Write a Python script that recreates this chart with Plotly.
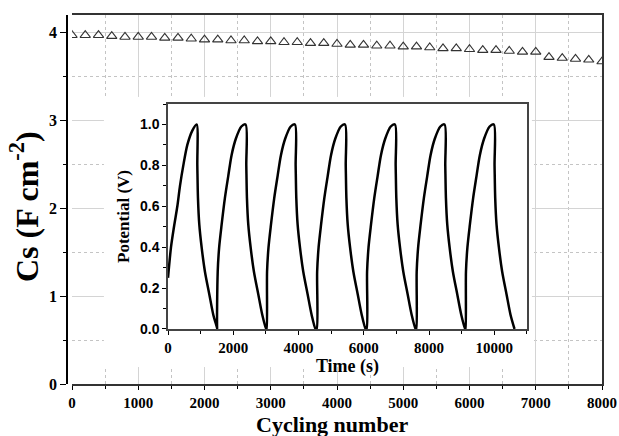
import plotly.graph_objects as go

# ---- main data: areal capacitance vs cycle number ----
cycles = [0, 200, 400, 600, 800, 1000, 1200, 1400, 1600, 1800,
          2000, 2200, 2400, 2600, 2800, 3000, 3200, 3400, 3600, 3800,
          4000, 4200, 4400, 4600, 4800, 5000, 5200, 5400, 5600, 5800,
          6000, 6200, 6400, 6600, 6800, 7000, 7200, 7400, 7600, 7800, 8000]
cs = [3.97, 3.97, 3.97, 3.96, 3.95, 3.95, 3.95, 3.94, 3.94, 3.93,
      3.92, 3.92, 3.91, 3.91, 3.90, 3.90, 3.89, 3.89, 3.88, 3.88,
      3.87, 3.86, 3.86, 3.85, 3.85, 3.84, 3.84, 3.83, 3.82, 3.82,
      3.81, 3.80, 3.80, 3.79, 3.78, 3.78, 3.72, 3.71, 3.70, 3.69, 3.67]

# ---- inset data: galvanostatic charge/discharge ----
first_charge_t = [0, 92, 184, 286, 367, 469, 592, 745, 877]
first_charge_v = [0.25, 0.40, 0.50, 0.60, 0.70, 0.80, 0.90, 0.97, 1.0]
cycle_start = [0, 1508, 3020, 4555, 6085, 7605, 9115]
charge_dt = [0, 15, 60, 135, 235, 340, 440, 570, 740, 870]
charge_v = [0.0, 0.28, 0.40, 0.51, 0.64, 0.75, 0.85, 0.93, 0.99, 1.0]
discharge_dt = [0, 21, 41, 82, 153, 255, 388, 510, 633]
discharge_v = [1.0, 0.80, 0.64, 0.51, 0.40, 0.28, 0.17, 0.07, 0.0]

t, v = [], []
for i, s in enumerate(cycle_start):
    if i == 0:
        ct, cv = first_charge_t, first_charge_v
    else:
        ct = [s + d for d in charge_dt]
        cv = charge_v
    t += ct
    v += cv
    peak = ct[-1]
    t += [peak + d for d in discharge_dt[1:]]
    v += discharge_v[1:]

SERIF = "Liberation Serif"
SANS = "Liberation Sans"
GRID = "#d4d4d4"
MINGRID = "#c4c4c4"

fig = go.Figure()
fig.add_trace(go.Scatter(
    x=cycles, y=cs, mode="markers", xaxis="x", yaxis="y", cliponaxis=True,
    marker=dict(symbol="triangle-up-open", size=9, color="#333333",
                line=dict(width=1.1, color="#333333")),
    showlegend=False, hoverinfo="skip"))
# helper traces so the frame axis and the white backing panel exist
fig.add_trace(go.Scatter(x=[0], y=[0], xaxis="x", yaxis="y4", mode="markers",
                         marker=dict(opacity=0), showlegend=False, hoverinfo="skip"))
fig.add_trace(go.Scatter(x=[0], y=[0], xaxis="x2", yaxis="y2", mode="markers",
                         marker=dict(opacity=0), showlegend=False, hoverinfo="skip"))
fig.add_trace(go.Scatter(
    x=t, y=v, mode="lines", xaxis="x3", yaxis="y3",
    line=dict(color="black", width=2.5, shape="spline", smoothing=0.8),
    showlegend=False, hoverinfo="skip"))

tickfont = dict(family=SERIF, size=16, color="black", weight="bold")

fig.update_layout(
    width=619, height=436,
    margin=dict(l=67, r=17, t=15, b=52, autoexpand=False),
    paper_bgcolor="white", plot_bgcolor="white",
    showlegend=False,
    xaxis=dict(
        domain=[0.00935, 1], range=[0, 8000], anchor="y", automargin=False,
        tick0=0, dtick=1000, ticks="outside", ticklen=4, tickwidth=1.3,
        tickcolor="black", tickfont=dict(family=SERIF, size=15, color="black", weight="bold"),
        showgrid=True, gridcolor=GRID, gridwidth=1,
        minor=dict(dtick=500, ticks="outside", ticklen=3, tickcolor="black",
                   showgrid=True, gridcolor=MINGRID, griddash="dot"),
        showline=True, linecolor="#333333", linewidth=1.5, mirror=True,
        zeroline=False,
    ),
    yaxis=dict(
        anchor="free", position=0, range=[0, 4.2], automargin=False,
        tick0=0, dtick=1, ticks="outside", ticklen=6, tickwidth=1.3,
        tickcolor="black", tickfont=tickfont,
        showgrid=True, gridcolor=GRID, gridwidth=1,
        minor=dict(dtick=0.5, ticks="outside", ticklen=3, tickcolor="black",
                   showgrid=True, gridcolor=MINGRID, griddash="dot"),
        showline=True, linecolor="black", linewidth=1.5,
        zeroline=False,
    ),
    yaxis4=dict(
        overlaying="y", side="right", anchor="x", range=[0, 4.2], automargin=False,
        showline=True, linecolor="#333333", linewidth=1.5,
        showticklabels=False, ticks="", showgrid=False, zeroline=False,
    ),
    xaxis2=dict(domain=[0.069, 0.869], anchor="y2", visible=False, range=[0, 1]),
    yaxis2=dict(domain=[0.046, 0.778], anchor="x2", visible=False, range=[0, 1]),
    xaxis3=dict(
        domain=[0.1888, 0.8598], anchor="y3", range=[0, 11000], automargin=False,
        tick0=0, dtick=2000, ticks="outside", ticklen=4, tickwidth=1.2,
        tickcolor="black", tickformat="d",
        tickfont=dict(family=SERIF, size=15, color="black", weight="bold"),
        minor=dict(dtick=1000, ticks="outside", ticklen=3, tickcolor="black"),
        showgrid=False, zeroline=False,
        showline=True, linecolor="#444444", linewidth=1.5, mirror=True,
        title=dict(text="Time (s)", standoff=0,
                   font=dict(family=SERIF, size=18, color="black", weight="bold")),
    ),
    yaxis3=dict(
        domain=[0.1491, 0.7588], anchor="x3", range=[0, 1.1], automargin=False,
        tick0=0, dtick=0.2, tickformat=".1f", ticks="outside", ticklen=4,
        tickwidth=1.2, tickcolor="black",
        tickfont=dict(family=SANS, size=14, color="black", weight="bold"),
        minor=dict(dtick=0.1, ticks="outside", ticklen=3, tickcolor="black"),
        showgrid=False, zeroline=False,
        showline=True, linecolor="#444444", linewidth=1.5, mirror=True,
        title=dict(text="Potential (V)", standoff=6,
                   font=dict(family=SERIF, size=17, color="black", weight="bold")),
    ),
    annotations=[
        dict(text="Cs (F cm<sup>-2</sup>)", textangle=-90, showarrow=False,
             xref="paper", yref="paper", x=-0.08, y=0.48,
             xanchor="center", yanchor="middle",
             font=dict(family=SERIF, size=32, color="black", weight="bold")),
        dict(text="Cycling number", showarrow=False,
             xref="paper", yref="paper", x=0.495, y=-0.11,
             xanchor="center", yanchor="middle",
             font=dict(family=SERIF, size=22, color="black", weight="bold")),
    ],
)

fig.write_html("out.html")
